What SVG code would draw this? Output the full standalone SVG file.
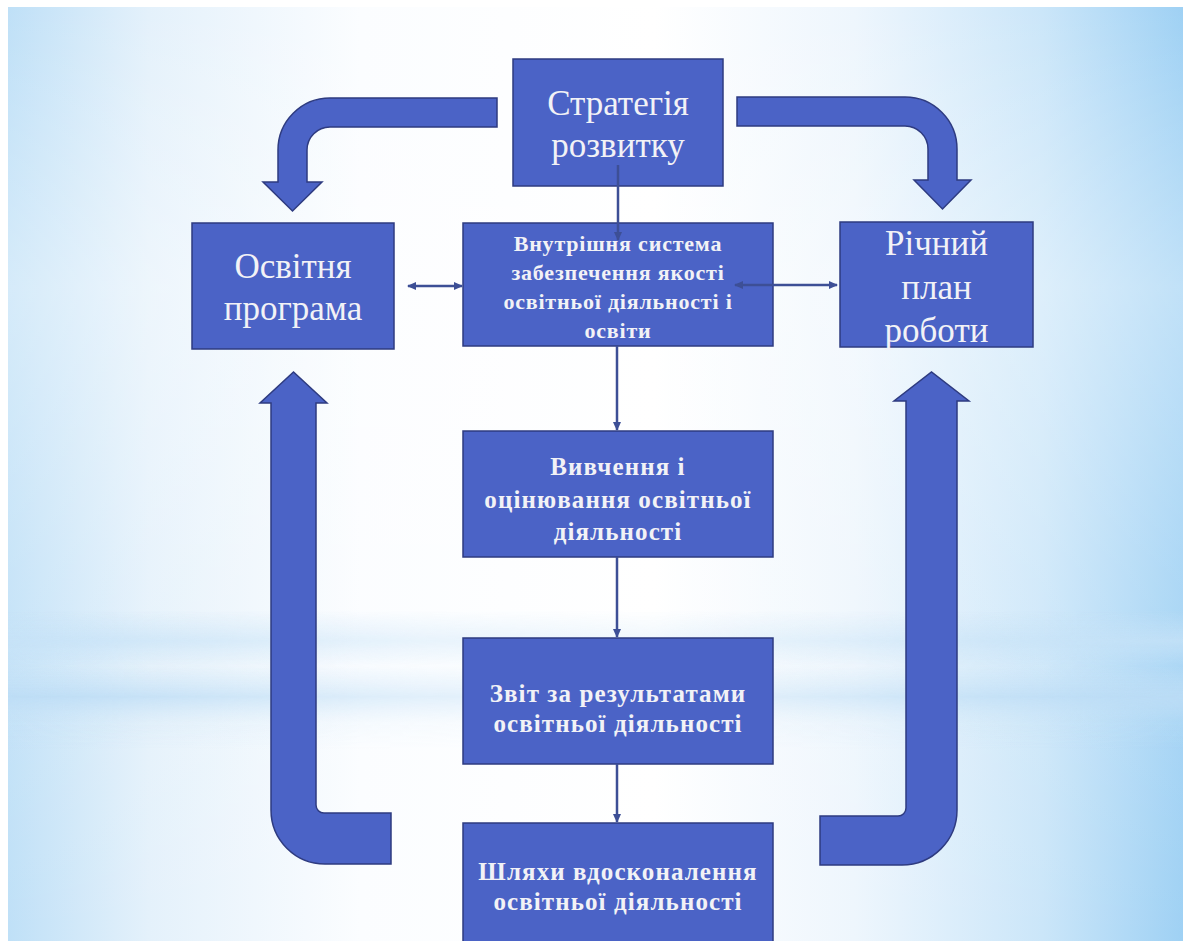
<svg xmlns="http://www.w3.org/2000/svg" width="1189" height="941" viewBox="0 0 1189 941">
<defs>
<linearGradient id="bgH" x1="0" y1="0" x2="1" y2="0">
<stop offset="0" stop-color="#bfe0f7"/>
<stop offset="0.12" stop-color="#e4f1fb"/>
<stop offset="0.3" stop-color="#fbfdff"/>
<stop offset="0.55" stop-color="#ffffff"/>
<stop offset="0.72" stop-color="#eef6fd"/>
<stop offset="0.88" stop-color="#cbe6f9"/>
<stop offset="1" stop-color="#9fd1f4"/>
</linearGradient>
<linearGradient id="bgV" x1="0" y1="0" x2="0" y2="1">
<stop offset="0" stop-color="#ffffff" stop-opacity="0"/>
<stop offset="0.3" stop-color="#ffffff" stop-opacity="0.35"/>
<stop offset="0.6" stop-color="#ffffff" stop-opacity="0.15"/>
<stop offset="1" stop-color="#ffffff" stop-opacity="0"/>
</linearGradient>
<linearGradient id="band" x1="0" y1="0" x2="0" y2="1">
<stop offset="0" stop-color="#c6e2f7" stop-opacity="0"/>
<stop offset="0.22" stop-color="#c6e2f7" stop-opacity="0.8"/>
<stop offset="0.4" stop-color="#c6e2f7" stop-opacity="0.1"/>
<stop offset="0.62" stop-color="#bcdcf5" stop-opacity="0.9"/>
<stop offset="0.8" stop-color="#c6e2f7" stop-opacity="0.2"/>
<stop offset="1" stop-color="#c6e2f7" stop-opacity="0"/>
</linearGradient>
<linearGradient id="bandMaskG" x1="0" y1="0" x2="1" y2="0">
<stop offset="0" stop-color="#fff"/>
<stop offset="0.35" stop-color="#777"/>
<stop offset="0.55" stop-color="#555"/>
<stop offset="0.75" stop-color="#999"/>
<stop offset="1" stop-color="#fff"/>
</linearGradient>
<mask id="bandMask"><rect x="0" y="600" width="1189" height="160" fill="url(#bandMaskG)"/></mask>
<marker id="ah" viewBox="0 0 9 8" refX="8" refY="4" markerWidth="9" markerHeight="8" markerUnits="userSpaceOnUse" orient="auto-start-reverse">
<path d="M0,0 L9,4 L0,8 z" fill="#3d4f96"/>
</marker>
<style>
.box{fill:#4b63c6;stroke:#2e3b80;stroke-width:1.5}
.big{fill:#4b63c6;stroke:#2e3b80;stroke-width:1.5;stroke-linejoin:miter}
.conn{stroke:#3d4f96;stroke-width:2.5;fill:none}
.t1{font-family:"Liberation Serif","Times New Roman",serif;font-size:35px;fill:#f2f2f6;text-anchor:middle}
.t2{font-family:"Liberation Serif","Times New Roman",serif;font-weight:bold;font-size:22px;letter-spacing:0.8px;fill:#f2f2f6;text-anchor:middle}
.t3{font-family:"Liberation Serif","Times New Roman",serif;font-weight:bold;font-size:25px;letter-spacing:1.1px;fill:#f2f2f6;text-anchor:middle}
</style>
</defs>

<g id="background">
<rect x="0" y="0" width="1189" height="941" fill="#ffffff"/>
<rect x="8" y="7" width="1175" height="934" fill="url(#bgH)"/>
<rect x="8" y="7" width="1175" height="934" fill="url(#bgV)"/>
<rect x="8" y="610" width="1175" height="140" fill="url(#band)" mask="url(#bandMask)"/>
</g>

<g id="big-arrows">
<path id="arrow-top-left" class="big" d="M497 98 L330 98 A52 52 0 0 0 278 150 L278 182 L263 182 L292.5 211 L322 182 L307 182 L307 150 A23 23 0 0 1 330 127 L497 127 Z"/>
<path id="arrow-top-right" class="big" d="M737 97 L905 97 A52 52 0 0 1 957 149 L957 180 L971 180 L942.5 209 L914 180 L928 180 L928 149 A23 23 0 0 0 905 126 L737 126 Z"/>
<path id="arrow-bottom-left" class="big" d="M391 813 L324 813 A8 8 0 0 1 316 805 L316 403 L327 403 L293.5 372 L260 403 L271 403 L271 810 A54 54 0 0 0 325 864 L391 864 Z"/>
<path id="arrow-bottom-right" class="big" d="M820 816 L898 816 A8 8 0 0 0 906 808 L906 401 L894 401 L931.5 372 L969 401 L957 401 L957 810 A55 55 0 0 1 902 865 L820 865 Z"/>
</g>

<g id="node-strategy">
<rect class="box" x="513" y="59" width="210" height="127"/>
<text class="t1" x="618" y="115">Стратегія</text>
<text class="t1" x="618" y="157">розвитку</text>
</g>

<g id="node-program">
<rect class="box" x="192" y="223" width="202" height="126"/>
<text class="t1" x="293" y="278">Освітня</text>
<text class="t1" x="293" y="320">програма</text>
</g>

<g id="node-annual">
<rect class="box" x="840" y="222" width="193" height="125"/>
<text class="t1" x="936.5" y="255">Річний</text>
<text class="t1" x="936.5" y="299">план</text>
<text class="t1" x="936.5" y="342">роботи</text>
</g>

<g id="node-internal">
<rect class="box" x="463" y="223" width="310" height="123"/>
<text class="t2" x="618" y="251">Внутрішня система</text>
<text class="t2" x="618" y="280">забезпечення якості</text>
<text class="t2" x="618" y="309">освітньої діяльності і</text>
<text class="t2" x="618" y="338">освіти</text>
</g>

<g id="node-study">
<rect class="box" x="463" y="431" width="310" height="126"/>
<text class="t3" x="618" y="475">Вивчення і</text>
<text class="t3" x="618" y="508">оцінювання освітньої</text>
<text class="t3" x="618" y="540">діяльності</text>
</g>

<g id="node-report">
<rect class="box" x="463" y="638" width="310" height="126"/>
<text class="t3" x="618" y="702">Звіт за результатами</text>
<text class="t3" x="618" y="732">освітньої діяльності</text>
</g>

<g id="node-ways">
<rect class="box" x="463" y="823" width="310" height="130"/>
<text class="t3" x="618" y="880">Шляхи вдосконалення</text>
<text class="t3" x="618" y="910">освітньої діяльності</text>
</g>

<g id="connectors">
<line class="conn" x1="618" y1="165" x2="618" y2="240" marker-end="url(#ah)"/>
<line class="conn" x1="408" y1="286" x2="462" y2="286" marker-start="url(#ah)" marker-end="url(#ah)"/>
<line class="conn" x1="735" y1="285" x2="837" y2="285" marker-start="url(#ah)" marker-end="url(#ah)"/>
<line class="conn" x1="617" y1="346" x2="617" y2="430" marker-end="url(#ah)"/>
<line class="conn" x1="617" y1="557" x2="617" y2="637" marker-end="url(#ah)"/>
<line class="conn" x1="617" y1="764" x2="617" y2="822" marker-end="url(#ah)"/>
</g>
</svg>
